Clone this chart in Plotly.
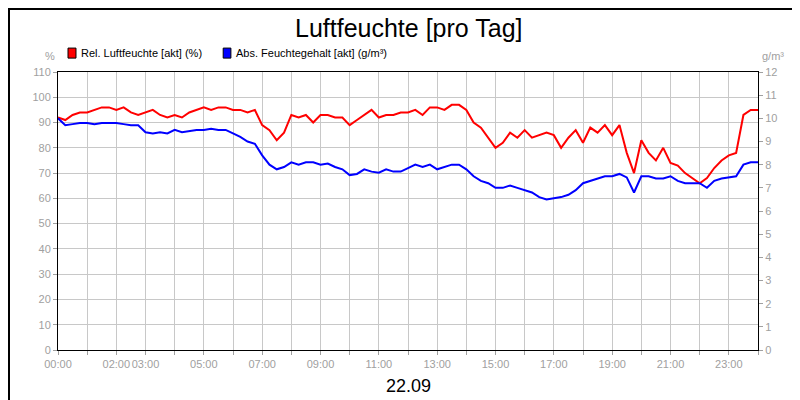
import plotly.graph_objects as go

hours = [i * 0.25 for i in range(97)]
rel = [92,91,93,94,94,95,96,96,95,96,94,93,94,95,93,92,93,92,94,95,96,95,96,96,95,95,94,95,
       89,87,83,86,93,92,93,90,93,93,92,92,89,91,93,95,92,93,93,94,94,95,93,96,96,95,97,97,
       95,90,88,84,80,82,86,84,87,84,85,86,85,80,84,87,82,88,86,89,85,89,78,70,83,78,75,80,
       74,73,70,68,66,68,72,75,77,78,93,95,95]
absf = [10.0,9.7,9.75,9.8,9.8,9.75,9.8,9.8,9.8,9.75,9.7,9.7,9.4,9.35,9.4,9.35,9.5,9.4,9.45,9.5,
        9.5,9.55,9.5,9.5,9.35,9.2,9.0,8.9,8.4,8.0,7.8,7.9,8.1,8.0,8.1,8.1,8.0,8.05,7.9,7.8,
        7.55,7.6,7.8,7.7,7.65,7.8,7.7,7.7,7.85,8.0,7.9,8.0,7.8,7.9,8.0,8.0,7.8,7.5,7.3,7.2,
        7.0,7.0,7.1,7.0,6.9,6.8,6.6,6.5,6.55,6.6,6.7,6.9,7.2,7.3,7.4,7.5,7.5,7.6,7.45,6.8,
        7.5,7.5,7.4,7.4,7.5,7.3,7.2,7.2,7.2,7.0,7.3,7.4,7.45,7.5,8.0,8.1,8.1]
labeled = {0, 2, 3, 5, 7, 9, 11, 13, 15, 17, 19, 21, 23}
tickvals = list(range(25))
ticktext = [f"{h:02d}:00" if h in labeled else "" for h in tickvals]

fig = go.Figure()
fig.add_trace(go.Scatter(x=hours, y=rel, mode="lines", line=dict(color="#ff0000", width=2),
                         name="Rel. Luftfeuchte [akt] (%)"))
fig.add_trace(go.Scatter(x=hours, y=absf, mode="lines", line=dict(color="#0000ff", width=2),
                         name="Abs. Feuchtegehalt [akt] (g/m³)", yaxis="y2"))

tick_font = dict(family="Liberation Sans Narrow, Liberation Sans, Arial", size=11, color="#a0a0a0")
fig.update_layout(
    width=800, height=400, margin=dict(l=50, r=50, t=64, b=58, autoexpand=False),
    paper_bgcolor="white", plot_bgcolor="white", showlegend=False,
    font=dict(family="Liberation Sans, Arial"),
    xaxis=dict(range=[0, 24], tickvals=tickvals, ticktext=ticktext, showgrid=True, tickangle=0,
               automargin=False, gridcolor="#c8c8c8", showline=True, linecolor="black", mirror=True,
               ticks="outside", tickcolor="#a0a0a0", ticklen=4, tickfont=tick_font, zeroline=False),
    yaxis=dict(range=[0, 110], dtick=10, showgrid=True, gridcolor="#c8c8c8", showline=True,
               automargin=False, linecolor="black", mirror=True, ticks="outside", tickcolor="#a0a0a0",
               ticklen=4, tickfont=tick_font, zeroline=False),
    yaxis2=dict(range=[0, 12], dtick=1, overlaying="y", side="right", showgrid=False, automargin=False,
                ticks="outside", tickcolor="#a0a0a0", ticklen=4, tickfont=tick_font, zeroline=False),
    shapes=[
        dict(type="rect", xref="paper", yref="paper", x0=-0.0700, x1=1.0700, y0=-0.2050, y1=1.2270,
             line=dict(color="black", width=2), fillcolor="rgba(0,0,0,0)", layer="below"),
        dict(type="rect", xref="paper", yref="paper", x0=0.0143, x1=0.0257, y0=1.050, y1=1.086,
             line=dict(color="black", width=1), fillcolor="#ff0000"),
        dict(type="rect", xref="paper", yref="paper", x0=0.236, x1=0.247, y0=1.050, y1=1.086,
             line=dict(color="black", width=1), fillcolor="#0000ff"),
    ],
    annotations=[
        dict(text="Luftfeuchte [pro Tag]", xref="paper", yref="paper", x=0.5, y=1.215,
             xanchor="center", yanchor="top", showarrow=False, font=dict(size=25, color="black")),
        dict(text="22.09", xref="paper", yref="paper", x=0.5, y=-0.129, xanchor="center",
             yanchor="middle", showarrow=False, font=dict(size=18, color="black")),
        dict(text="Rel. Luftfeuchte [akt] (%)", xref="paper", yref="paper", x=0.030, y=1.068,
             xanchor="left", yanchor="middle", showarrow=False, font=dict(size=11, color="black")),
        dict(text="Abs. Feuchtegehalt [akt] (g/m³)", xref="paper", yref="paper", x=0.251, y=1.068,
             xanchor="left", yanchor="middle", showarrow=False, font=dict(size=11, color="black")),
        dict(text="%", xref="paper", yref="paper", x=-0.011, y=1.057, xanchor="center",
             yanchor="middle", showarrow=False, font=tick_font),
        dict(text="g/m³", xref="paper", yref="paper", x=1.021, y=1.057, xanchor="center",
             yanchor="middle", showarrow=False, font=tick_font),
    ],
)
fig.write_html("out.html")
